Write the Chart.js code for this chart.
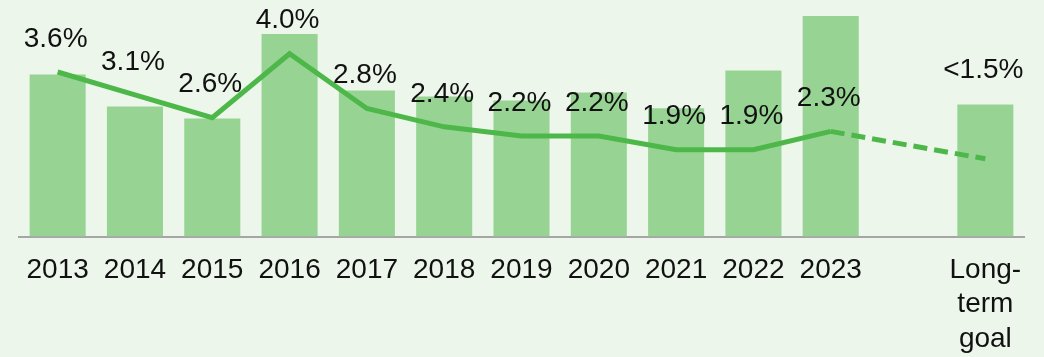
<!DOCTYPE html>
<html>
<head>
<meta charset="utf-8">
<script src="https://cdn.jsdelivr.net/npm/chart.js@4.4.1/dist/chart.umd.min.js"></script>
<style>
  html, body { margin: 0; padding: 0; background: #ecf6ea; }
  #wrap { width: 1044px; height: 357px; position: relative; }
</style>
</head>
<body>
<div id="wrap"><canvas id="rateChart"></canvas></div>
<script>
// ─── Data ──────────────────────────────────────────────────────────────────────
const years = ['2013', '2014', '2015', '2016', '2017', '2018', '2019', '2020', '2021', '2022', '2023', '', ['Long-', 'term', 'goal']];
// volume index (background bars), the blank slot separates the goal
const volumeIndex = [70.9, 56.9, 51.6, 88.6, 63.9, 61.3, 59.5, 63.0, 56.1, 72.7, 96.5, null, 57.8];
// rate in percent (line)
const rateValues = [3.6, 3.1, 2.6, 4.0, 2.8, 2.4, 2.2, 2.2, 1.9, 1.9, 2.3, null, 1.7];
const rateLabels = ['3.6%', '3.1%', '2.6%', '4.0%', '2.8%', '2.4%', '2.2%', '2.2%', '1.9%', '1.9%', '2.3%', '', '<1.5%'];
const goalIndex = years.length - 1;

const FONT = '"Liberation Sans", Arial, sans-serif';

// ─── Value labels above the line (goal label sits above its bar) ─────────────
const valueLabels = {
  id: 'valueLabels',
  afterDatasetsDraw(chart) {
    const ctx = chart.ctx;
    const bars = chart.getDatasetMeta(0).data;
    const points = chart.getDatasetMeta(1).data;
    ctx.save();
    ctx.font = '28px ' + FONT;
    ctx.fillStyle = '#111';
    ctx.textAlign = 'center';
    ctx.textBaseline = 'middle';
    points.forEach((pt, i) => {
      if (!rateLabels[i]) return;
      const y = i === goalIndex ? bars[i].y - 34 : pt.y - 33;
      ctx.fillText(rateLabels[i], pt.x - 2, y);
    });
    ctx.restore();
  }
};

new Chart(document.getElementById('rateChart'), {
  data: {
    labels: years,
    datasets: [
      {
        type: 'bar',
        data: volumeIndex,
        yAxisID: 'yVol',
        backgroundColor: '#97d494',
        categoryPercentage: 1,
        barPercentage: 0.725,
        order: 2
      },
      {
        type: 'line',
        data: rateValues,
        yAxisID: 'yRate',
        borderColor: '#4db849',
        borderWidth: 5,
        tension: 0,
        pointRadius: 0,
        spanGaps: true,
        segment: {
          borderDash: c => c.p1DataIndex === goalIndex ? [14, 7] : undefined
        },
        order: 1
      }
    ]
  },
  options: {
    responsive: true,
    maintainAspectRatio: false,
    animation: false,
    layout: { padding: { left: 19, right: 20, top: 8, bottom: -16 } },
    plugins: { legend: { display: false }, tooltip: { enabled: false } },
    scales: {
      x: {
        grid: { display: false, drawTicks: false },
        border: { display: true, color: '#a6a6a6', width: 2 },
        ticks: {
          color: '#111',
          padding: 17,
          maxRotation: 0,
          autoSkip: false,
          font: { family: FONT, size: 28, lineHeight: 1.22 }
        }
      },
      yRate: { display: false, min: 0, max: 5 },
      yVol: { display: false, min: 0, max: 100 }
    }
  },
  plugins: [valueLabels]
});
</script>
</body>
</html>
